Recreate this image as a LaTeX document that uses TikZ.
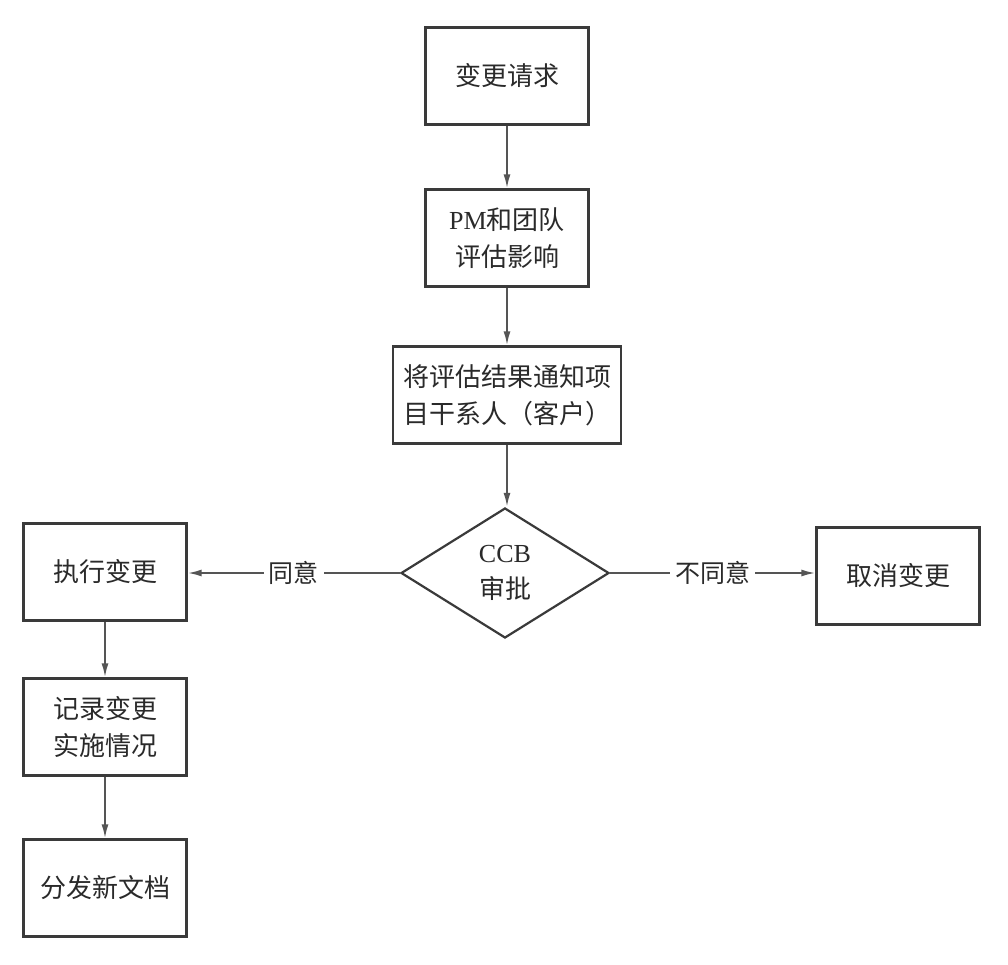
\documentclass[tikz,border=0pt]{standalone}
\usepackage{fontspec}
\setmainfont{Liberation Serif}
\newfontfamily\cjk{Noto Sans CJK SC}
\usetikzlibrary{shapes.geometric,arrows.meta}
\definecolor{boxgray}{HTML}{3A3A3A}
\definecolor{linegray}{HTML}{555555}
\definecolor{txtgray}{HTML}{2A2A2A}
\begin{document}
\begin{tikzpicture}[x=1pt,y=-1pt,
  box/.style={draw=boxgray, line width=2.2pt, minimum width=163pt, minimum height=97pt,
    inner sep=0pt, align=center, text=txtgray, font=\fontsize{26}{37}\selectfont\cjk},
  decision/.style={draw=boxgray, line width=2.2pt, shape=diamond, aspect=1.6,
    minimum width=208pt, minimum height=130pt, inner sep=0pt, align=center,
    text=txtgray, font=\fontsize{26}{36}\selectfont\rmfamily},
  arr/.style={draw=linegray, line width=2pt, -{Latex[length=14pt,width=7pt]}},
  lbl/.style={fill=white, inner sep=5pt, text=txtgray, font=\fontsize{25}{30}\selectfont\cjk}]
\fill[white] (0,0) rectangle (1008,964);
\useasboundingbox (0,0) rectangle (1008,964);

% main column
\node[box] (req) at (507,76) {变更请求};
\node[box] (eval) at (507,238) {{\rmfamily PM}和团队\\评估影响};
\node[box, minimum width=228pt] (notify) at (507,395) {将评估结果通知项\\目干系人（客户）};
\node[decision] (ccb) at (505,573) {CCB\\{\cjk 审批}};

% branches
\node[box] (exec) at (105,572) {执行变更};
\node[box] (cancel) at (898,576) {取消变更};
\node[box] (record) at (105,727) {记录变更\\实施情况};
\node[box] (dist) at (105,888) {分发新文档};

% connectors
\draw[arr] (req) -- (eval);
\draw[arr] (eval) -- (notify);
\draw[arr] (notify.south) -- (notify.south |- ccb.north);
\draw[arr] (ccb.west) -- node[lbl] {同意} (exec.east |- ccb.west);
\draw[arr] (ccb.east) -- node[lbl] {不同意} (cancel.west |- ccb.east);
\draw[arr] (exec) -- (record);
\draw[arr] (record) -- (dist);
\end{tikzpicture}
\end{document}
